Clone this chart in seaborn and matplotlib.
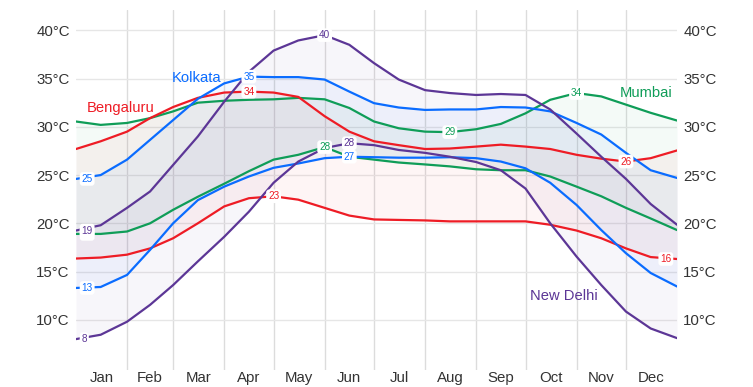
import numpy as np
import pandas as pd
import seaborn as sns
import matplotlib.pyplot as plt

# day of year where each reading was taken
days = [0, 15, 31, 45, 59, 74, 90, 105, 120, 135, 151, 166, 181, 196,
        212, 227, 243, 258, 273, 288, 304, 319, 334, 349, 365]

delhi_high = [19.25, 19.8, 21.6, 23.3, 26.05, 29.0, 32.6, 35.7, 37.9, 38.95, 39.5, 38.5, 36.6,
              34.9, 33.8, 33.5, 33.3, 33.4, 33.3, 31.8, 29.3, 26.9, 24.6, 22.0, 19.85]
delhi_low = [8.0, 8.45, 9.8, 11.55, 13.6, 16.05, 18.6, 21.2, 24.2, 26.4, 27.8, 28.3, 28.1,
             27.6, 27.3, 26.9, 26.35, 25.5, 23.6, 20.0, 16.55, 13.6, 10.85, 9.1, 8.1]
kolkata_high = [24.6, 25.0, 26.6, 28.65, 30.7, 32.9, 34.5, 35.2, 35.15, 35.15, 34.9, 33.65, 32.45,
                32.0, 31.75, 31.8, 31.8, 32.05, 32.0, 31.6, 30.4, 29.2, 27.3, 25.5, 24.7]
kolkata_low = [13.3, 13.4, 14.65, 17.25, 20.0, 22.4, 23.8, 24.85, 25.75, 26.2, 26.75, 26.9, 26.85,
               26.8, 26.8, 26.85, 26.75, 26.4, 25.7, 24.2, 21.9, 19.3, 16.9, 14.85, 13.45]
bengaluru_high = [27.7, 28.5, 29.5, 30.9, 32.05, 33.0, 33.55, 33.65, 33.55, 33.1, 31.1, 29.5, 28.5,
                  28.1, 27.7, 27.75, 27.95, 28.15, 27.95, 27.7, 27.1, 26.7, 26.4, 26.75, 27.55]
bengaluru_low = [16.35, 16.45, 16.75, 17.4, 18.45, 20.0, 21.75, 22.6, 22.8, 22.45, 21.6, 20.8, 20.4,
                 20.35, 20.3, 20.2, 20.2, 20.2, 20.2, 19.85, 19.25, 18.45, 17.4, 16.5, 16.3]
mumbai_high = [30.55, 30.2, 30.4, 30.9, 31.6, 32.5, 32.7, 32.8, 32.85, 33.0, 32.85, 31.95, 30.55,
               29.85, 29.5, 29.45, 29.75, 30.3, 31.4, 32.8, 33.5, 33.15, 32.3, 31.45, 30.65]
mumbai_low = [18.9, 18.9, 19.15, 20.0, 21.4, 22.75, 24.1, 25.4, 26.6, 27.1, 27.9, 26.9, 26.6,
              26.3, 26.1, 25.9, 25.6, 25.5, 25.5, 24.85, 23.8, 22.8, 21.6, 20.5, 19.3]

month_names = ["Jan", "Feb", "Mar", "Apr", "May", "Jun",
               "Jul", "Aug", "Sep", "Oct", "Nov", "Dec"]
month_starts = [0, 31, 59, 90, 120, 151, 181, 212, 243, 273, 304, 334, 365]

cities = {
    "Mumbai": (mumbai_high, mumbai_low, "#0f9d58"),
    "Bengaluru": (bengaluru_high, bengaluru_low, "#ee1c25"),
    "Kolkata": (kolkata_high, kolkata_low, "#0a6cff"),
    "New Delhi": (delhi_high, delhi_low, "#5c3696"),
}
name_pos = {"Mumbai": (346, 33.5), "Bengaluru": (27, 31.9),
            "Kolkata": (73, 35.1), "New Delhi": (296, 12.5)}

sns.set_theme(style="white")
plt.rcParams["font.family"] = ["Liberation Sans", "DejaVu Sans"]

fig = plt.figure(figsize=(7.53, 3.87), dpi=100)
ax = fig.add_axes([0.1009, 0.044, 0.7982, 0.930])

rows = []
for city, (hi, lo, c) in cities.items():
    for d, h, l in zip(days, hi, lo):
        rows.append({"day": d, "high": h, "low": l, "city": city})
df = pd.DataFrame(rows)

for city, (hi, lo, c) in cities.items():
    sub = df[df.city == city]
    ax.fill_between(sub.day, sub.low, sub.high, color=c, alpha=0.045, lw=0)

for city, (hi, lo, c) in cities.items():
    sub = df[df.city == city]
    sns.lineplot(data=sub, x="day", y="high", ax=ax, color=c, lw=1.6)
    sns.lineplot(data=sub, x="day", y="low", ax=ax, color=c, lw=1.6)

# min / max labels on each line
for city, (hi, lo, c) in cities.items():
    for series in (hi, lo):
        arr = np.array(series)
        for idx in (int(arr.argmin()), int(arr.argmax())):
            d, v = days[idx], arr[idx]
            ha, dx = "center", 0
            if idx == 0:
                ha, dx = "left", 4
            elif idx == len(days) - 1:
                ha, dx = "right", -4
            ax.annotate(f"{v:.0f}", (d, v), xytext=(dx, 0), textcoords="offset points",
                        ha=ha, va="center", fontsize=7.2, color=c, zorder=5,
                        bbox=dict(boxstyle="round,pad=0.18,rounding_size=0.3",
                                  fc="white", ec="none"))
    nx, ny = name_pos[city]
    ax.text(nx, ny, city, color=c, fontsize=10.6, ha="center", va="center")

ax.set_xlim(0, 365)
ax.set_ylim(4.8, 42.1)
ax.set_yticks([10, 15, 20, 25, 30, 35, 40])
ax.set_yticklabels([f"{t}°C" for t in [10, 15, 20, 25, 30, 35, 40]])
mids = [(a + b) / 2 for a, b in zip(month_starts[:-1], month_starts[1:])]
ax.set_xticks(mids)
ax.set_xticklabels(month_names)
ax.set_xticks(month_starts[1:-1], minor=True)
ax.grid(axis="y", which="major", color="#e6e6e6", lw=1)
ax.grid(axis="x", which="minor", color="#dcdcdc", lw=1)
ax.grid(axis="x", which="major", visible=False)
ax.tick_params(axis="y", labelright=True, left=False, right=False, length=0, pad=4.5,
               labelsize=10.8, labelcolor="#333333")
ax.tick_params(axis="x", which="both", bottom=False, length=0, pad=0.5, labelsize=10.8,
               labelcolor="#333333")
for s in ax.spines.values():
    s.set_visible(False)
ax.set_xlabel("")
ax.set_ylabel("")

fig.savefig("out.png", dpi=100)
